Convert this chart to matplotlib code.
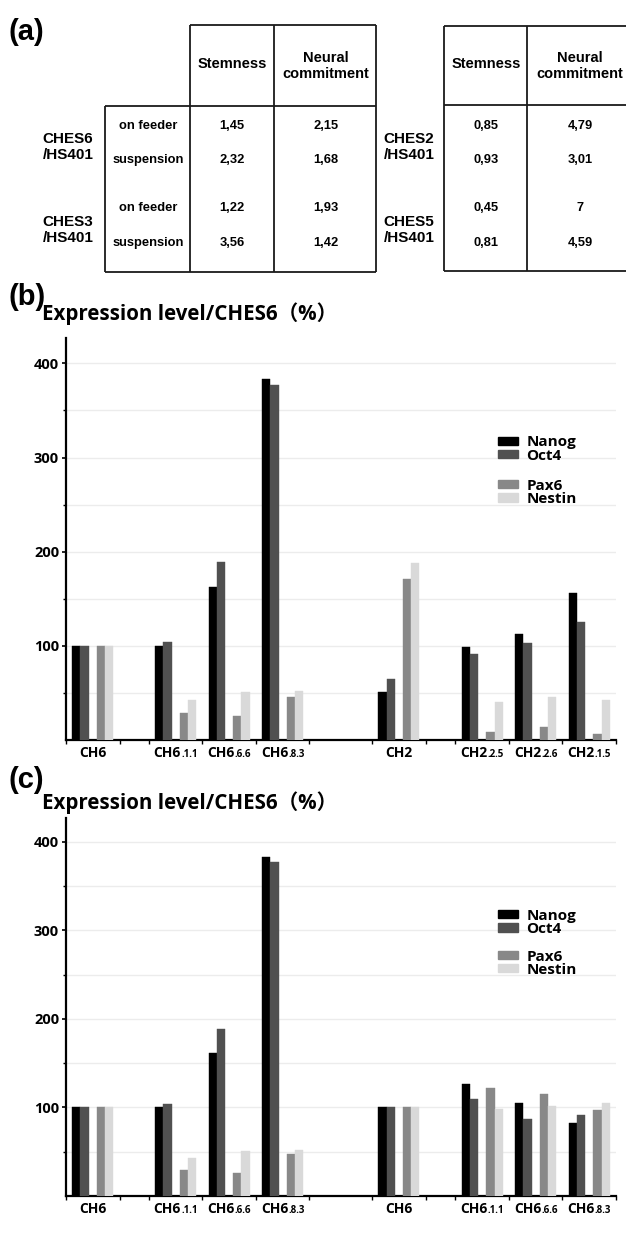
import matplotlib
matplotlib.use("Agg")
import matplotlib.pyplot as plt
from matplotlib import font_manager
from matplotlib.patches import Patch
from matplotlib.offsetbox import TextArea, HPacker, AnnotationBbox

# ---------------- data ----------------
# (a) ratio table
table_left_lines = ["CHES6\n/HS401", "CHES3\n/HS401"]
table_right_lines = ["CHES2\n/HS401", "CHES5\n/HS401"]
conditions = ["on feeder", "suspension"]
stem_left = [1.45, 2.32, 1.22, 3.56]
neural_left = [2.15, 1.68, 1.93, 1.42]
stem_right = [0.85, 0.93, 0.45, 0.81]
neural_right = [4.79, 3.01, 7, 4.59]
col_headers = ["Stemness", "Neural\ncommitment"]

# (b) / (c) expression levels relative to CHES6 (%)
genes = ["Nanog", "Oct4", "Pax6", "Nestin"]
gene_colors = ["#000000", "#505050", "#888888", "#d9d9d9"]

b_main = ["CH6", "CH6", "CH6", "CH6", "CH2", "CH2", "CH2", "CH2"]
b_sub = ["", ".1.1", ".6.6", ".8.3", "", ".2.5", ".2.6", ".1.5"]
nanog_b = [100, 100, 162, 383, 51, 99, 113, 156]
oct4_b = [100, 104, 189, 377, 65, 91, 103, 125]
pax6_b = [100, 29, 26, 46, 171, 9, 14, 6]
nestin_b = [100, 43, 51, 52, 188, 40, 46, 42]

c_main = ["CH6", "CH6", "CH6", "CH6", "CH6", "CH6", "CH6", "CH6"]
c_sub = ["", ".1.1", ".6.6", ".8.3", "", ".1.1", ".6.6", ".8.3"]
nanog_c = [100, 100, 162, 383, 100, 126, 105, 83]
oct4_c = [100, 104, 189, 377, 100, 110, 87, 92]
pax6_c = [100, 29, 26, 47, 100, 122, 115, 97]
nestin_c = [100, 43, 51, 52, 100, 98, 102, 105]

# ---------------- layout ----------------
W, H = 626, 1247
group_centers = [0.5, 2.05, 3.05, 4.05, 6.22, 7.78, 8.78, 9.78]
bar_w = 0.153
bar_offsets = [-2, -1, 1, 2]
y_max = 427

available = {f.name for f in font_manager.fontManager.ttflist}
if "Liberation Sans Narrow" in available:
    TAB_FONT = ["Liberation Sans Narrow", "DejaVu Sans"]
    tab_scale = 1.0
else:
    TAB_FONT = ["Liberation Sans", "DejaVu Sans"]
    tab_scale = 0.88
CHART_FONT = ["Open Sans", "Noto Sans CJK JP", "DejaVu Sans"]
LABEL_FONT = ["Liberation Sans", "DejaVu Sans"]

fig = plt.figure(figsize=(W / 100, H / 100), dpi=100)


def px_axes(left, top, right, bottom):
    return fig.add_axes([left / W, 1 - bottom / H, (right - left) / W, (bottom - top) / H])


def fmt(v):
    return str(v).replace(".", ",")


# ---------------- (a) table ----------------
ta = px_axes(0, 0, W, 280)
ta.set_xlim(0, W)
ta.set_ylim(280, 0)
ta.axis("off")

line_kw = dict(color="#1a1a1a", lw=1.3, solid_capstyle="butt", clip_on=False)


def hline(y, x0, x1):
    ta.plot([x0, x1], [y, y], **line_kw)


def vline(x, y0, y1):
    ta.plot([x, x], [y0, y1], **line_kw)


# left table frame
hline(25, 190, 376)
hline(106, 105, 376)
hline(272, 105, 376)
vline(105, 106, 272)
for x in (190, 274, 376):
    vline(x, 25, 272)
# right table frame
hline(26, 444, W + 5)
hline(105, 444, W + 5)
hline(271, 444, W + 5)
for x in (444, 527):
    vline(x, 26, 271)

hdr_kw = dict(family=TAB_FONT, fontweight="bold", fontsize=12 * tab_scale,
              ha="center", va="center", linespacing=1.15)
val_kw = dict(family=TAB_FONT, fontweight="bold", fontsize=10.5 * tab_scale,
              ha="center", va="center")
name_kw = dict(family=TAB_FONT, fontweight="bold", fontsize=12.5 * tab_scale,
               ha="center", va="center", linespacing=1.2)

for cx_s, cx_n in ((232, 326), (486, 580)):
    ta.text(cx_s, 64, col_headers[0], **hdr_kw)
    ta.text(cx_n, 66, col_headers[1], **hdr_kw)

row_y = [126, 160, 208, 243]
block_y = [147, 230]
for i in range(2):
    ta.text(68, block_y[i], table_left_lines[i], **name_kw)
    ta.text(409, block_y[i], table_right_lines[i], **name_kw)
for r, y in enumerate(row_y):
    ta.text(148, y, conditions[r % 2], **val_kw)
    ta.text(232, y, fmt(stem_left[r]), **val_kw)
    ta.text(326, y, fmt(neural_left[r]), **val_kw)
    ta.text(486, y, fmt(stem_right[r]), **val_kw)
    ta.text(580, y, fmt(neural_right[r]), **val_kw)

fig.text(8 / W, 1 - 32 / H, "(a)", family=LABEL_FONT, fontweight="bold",
         fontsize=21, ha="left", va="center")


# ---------------- (b) / (c) bar charts ----------------
def bar_panel(top, bottom, series, mains, subs, tag, tag_y, title_y):
    ax = px_axes(66, top, 616, bottom)
    for k, (vals, col, name) in enumerate(zip(series, gene_colors, genes)):
        xs = [c + bar_offsets[k] * bar_w for c in group_centers]
        ax.bar(xs, vals, width=bar_w, color=col, label=name, zorder=3,
               edgecolor=col, linewidth=0.3)

    ax.set_xlim(0, group_centers[-1] + 0.5)
    ax.set_ylim(0, y_max)
    for s in ("top", "right"):
        ax.spines[s].set_visible(False)
    for s in ("left", "bottom"):
        ax.spines[s].set_linewidth(1.6)
        ax.spines[s].set_color("black")

    ax.set_yticks([100, 200, 300, 400])
    ax.set_yticks(range(50, 427, 50), minor=True)
    ax.yaxis.grid(True, which="both", color="#ececec", lw=1.0, zorder=0)
    ax.set_axisbelow(True)
    ax.tick_params(axis="y", which="major", direction="out", length=3, width=1.2, pad=2)
    ax.tick_params(axis="y", which="minor", direction="out", length=2, width=1.0)
    for lab in ax.get_yticklabels():
        lab.set_fontfamily(CHART_FONT)
        lab.set_fontweight("bold")
        lab.set_fontsize(10.5)

    bounds = sorted({round(c - 0.5, 3) for c in group_centers} |
                    {round(c + 0.5, 3) for c in group_centers})
    ax.set_xticks(bounds)
    ax.set_xticklabels([])
    ax.tick_params(axis="x", direction="out", length=3, width=1.0)

    for c, m, s in zip(group_centers, mains, subs):
        parts = [TextArea(m, textprops=dict(family=CHART_FONT, fontweight="bold", fontsize=10))]
        if s:
            parts.append(TextArea(s, textprops=dict(family=CHART_FONT, fontweight="bold", fontsize=7)))
        box = HPacker(children=parts, align="baseline", pad=0, sep=0)
        ab = AnnotationBbox(box, (c, 0), xycoords=ax.get_xaxis_transform(),
                            xybox=(0, -4), boxcoords="offset points",
                            box_alignment=(0.5, 1), frameon=False, pad=0,
                            annotation_clip=False)
        ax.add_artist(ab)

    handles = [Patch(facecolor=col, edgecolor=col) for col in gene_colors]
    leg_kw = dict(frameon=False, loc="center left", handlelength=1.3, handleheight=0.45,
                  handletextpad=0.55, borderpad=0, borderaxespad=0, labelspacing=-0.05,
                  prop=dict(family=CHART_FONT, weight="bold", size=11))
    leg1 = ax.legend(handles[:2], genes[:2], bbox_to_anchor=(0.786, 0.724), **leg_kw)
    ax.add_artist(leg1)
    ax.legend(handles[2:], genes[2:], bbox_to_anchor=(0.786, 0.616), **leg_kw)

    fig.text(42 / W, 1 - title_y / H, "Expression level/CHES6（%）", family=CHART_FONT,
             fontweight="bold", fontsize=14.8, ha="left", va="center")
    fig.text(8 / W, 1 - tag_y / H, tag, family=LABEL_FONT, fontweight="bold",
             fontsize=21, ha="left", va="center")
    return ax


bar_panel(338, 740, [nanog_b, oct4_b, pax6_b, nestin_b], b_main, b_sub, "(b)", 297, 314)
bar_panel(818, 1196, [nanog_c, oct4_c, pax6_c, nestin_c], c_main, c_sub, "(c)", 780, 803)

fig.savefig("out.png", dpi=100)
